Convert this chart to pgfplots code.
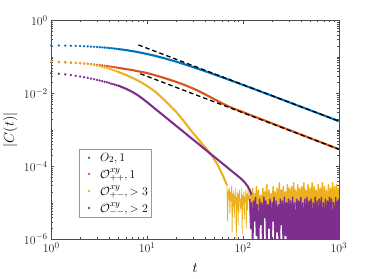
\documentclass[border=0pt]{standalone}
\usepackage{pgfplots}
\pgfplotsset{compat=1.18}
\definecolor{mblue}{rgb}{0,0.447,0.741}
\definecolor{morange}{rgb}{0.85,0.325,0.098}
\definecolor{myellow}{rgb}{0.929,0.694,0.125}
\definecolor{mpurple}{rgb}{0.494,0.184,0.556}
\begin{document}
\begin{tikzpicture}
\begin{axis}[
  scale only axis, width=289.4bp, height=220bp,
  xmode=log, ymode=log, xmin=1, xmax=1000, ymin=1e-6, ymax=1,
  xtick={1,10,100,1000}, ytick={1e-6,1e-4,1e-2,1},
  minor xtick={2,3,4,5,6,7,8,9,20,30,40,50,60,70,80,90,200,300,400,500,600,700,800,900},
  minor ytick={2e-6,3e-6,4e-6,5e-6,6e-6,7e-6,8e-6,9e-6,1e-5,2e-5,3e-5,4e-5,5e-5,6e-5,7e-5,8e-5,9e-5,
    2e-4,3e-4,4e-4,5e-4,6e-4,7e-4,8e-4,9e-4,1e-3,2e-3,3e-3,4e-3,5e-3,6e-3,7e-3,8e-3,9e-3,
    2e-2,3e-2,4e-2,5e-2,6e-2,7e-2,8e-2,9e-2,1e-1,2e-1,3e-1,4e-1,5e-1,6e-1,7e-1,8e-1,9e-1},
  tick align=inside, major tick length=3bp, minor tick length=1.8bp,
  axis line style={black!70, line width=0.45pt},
  every tick/.style={black!70, line width=0.4pt},
  tick label style={font=\fontsize{12.5}{13}\selectfont, text=black!85},
  xlabel={$t$}, ylabel={$|C(t)|$},
  every axis x label/.style={at={(axis description cs:0.5,-0.133)}, anchor=center, font=\fontsize{13.5}{14}\selectfont},
  every axis y label/.style={at={(axis description cs:-0.142,0.5)}, rotate=90, anchor=center, font=\fontsize{13.5}{14}\selectfont},
  legend style={at={(0.097,0.412)}, anchor=north west, draw=black!40, fill=white,
    font=\fontsize{13}{15}\selectfont, row sep=1.9bp, inner sep=1.6bp},
  legend image code/.code={\path (0bp,0bp) (17bp,0bp); \draw[#1] plot coordinates {(8bp,0bp)};},
  legend cell align=left,
  line join=round,
]
% blue
\addplot[only marks, mark=*, mark size=1bp, mblue] coordinates {
(1,0.2097)(1.2,0.2079)(1.4,0.2060)(1.6,0.2039)(1.8,0.2018)(2,0.1997)(2.2,0.1974)(2.4,0.1952)(2.6,0.1929)(2.8,0.1906)(3,0.1883)(3.2,0.1860)(3.4,0.1836)(3.6,0.1813)(3.8,0.1790)(4,0.1767)(4.2,0.1744)(4.4,0.1722)(4.6,0.1699)(4.8,0.1677)(5,0.1655)};
\addlegendentry{$O_2, 1$}
\addplot[mblue, line width=2.1bp, forget plot] coordinates {
(5,0.1655)(6,0.1551)(7,0.1453)(8,0.1365)(10,0.1210)(12,0.1082)(15,0.0930)(20,0.07474)(25,0.06221)(30,0.05316)(40,0.04106)(50,0.03338)(70,0.02422)(100,0.01714)(150,0.011504)(200,0.008654)(300,0.005781)(500,0.003475)(700,0.002484)(1000,0.001739)};
% orange
\addplot[only marks, mark=*, mark size=1bp, morange] coordinates {
(1,7.24e-2)(1.2,7.16e-2)(1.4,7.08e-2)(1.6,6.98e-2)(1.8,6.87e-2)(2,6.76e-2)(2.2,6.64e-2)(2.4,6.52e-2)(2.6,6.38e-2)(2.8,6.25e-2)(3,6.12e-2)(3.2,6.00e-2)(3.4,5.87e-2)(3.6,5.75e-2)(3.8,5.64e-2)(4,5.52e-2)(4.2,5.42e-2)(4.4,5.32e-2)(4.6,5.22e-2)(4.8,5.13e-2)(5,5.04e-2)};
\addlegendentry{$\mathcal{O}^{xy}_{++}, 1$}
\addplot[morange, line width=2.1bp, forget plot] coordinates {
(5,5.04e-2)(6,4.68e-2)(7,4.37e-2)(8,4.07e-2)(9,3.85e-2)(10,3.63e-2)(12,3.18e-2)(15,2.67e-2)(20,2.09e-2)(25,1.68e-2)(30,1.377e-2)(35,1.14e-2)(40,9.55e-3)(50,6.98e-3)(60,5.43e-3)(70,4.48e-3)(80,3.85e-3)(100,3.07e-3)(150,2.03e-3)(200,1.52e-3)(300,1.005e-3)(500,5.97e-4)(700,4.24e-4)(1000,2.95e-4)};
% yellow
\addplot[only marks, mark=*, mark size=1bp, myellow] coordinates {
(1,7.59e-2)(1.2,7.46e-2)(1.4,7.33e-2)(1.6,7.18e-2)(1.8,7.01e-2)(2,6.84e-2)(2.2,6.65e-2)(2.4,6.46e-2)(2.6,6.25e-2)(2.8,6.04e-2)(3,5.82e-2)(3.2,5.61e-2)(3.4,5.40e-2)(3.6,5.19e-2)(3.8,4.99e-2)(4,4.79e-2)(4.2,4.59e-2)(4.4,4.41e-2)(4.6,4.23e-2)(4.8,4.06e-2)(5,3.89e-2)};
\addlegendentry{$\mathcal{O}^{xy}_{+-}, >3$}
\addplot[myellow, line width=2.1bp, forget plot] coordinates {
(5,3.89e-2)(6,3.24e-2)(7,2.69e-2)(8,2.26e-2)(9,1.905e-2)(10,1.60e-2)(12,1.148e-2)(14.6,7.24e-3)(17,4.90e-3)(20,3.16e-3)(24,1.78e-3)(28.7,9.55e-4)(34,5.62e-4)(40,3.39e-4)(48,1.86e-4)(55,1.047e-4)(62,5.37e-5)(68,3.02e-5)};
\addplot[myellow, line width=0.8bp, forget plot] coordinates {
(68,3.02e-5)(69,3.16e-6)(70,2.24e-5)(71,1.26e-5)(72,2.51e-5)(73,5.01e-6)(74,2.00e-5)(75,1.12e-5)(76,2.82e-5)(77,1.58e-6)(78,1.78e-5)(79,7.94e-6)(80,2.24e-5)(81,3.98e-6)(82,1.58e-5)(83,8.91e-6)(84,2.51e-5)(85,1.00e-6)(86,1.41e-5)(87,6.31e-6)(88,2.00e-5)(89,2.51e-6)(90,1.78e-5)(91,1.12e-5)(92,2.24e-5)(93,5.62e-6)(94,1.26e-5)(96,7.08e-6)(97,2.51e-5)(98,1.41e-6)(99,1.58e-5)(100,8.91e-6)(102,2.00e-5)(103,3.55e-6)(104,1.41e-5)(106,1.00e-5)(107,2.24e-5)(108,2.00e-6)(110,1.78e-5)(111,6.31e-6)(113,2.51e-5)(114,1.26e-5)(116,1.58e-5)(118,4.47e-6)(119,2.00e-5)(120,1.12e-5)};
\addplot[myellow, line width=1.4bp, forget plot] coordinates {
(120,2.00e-5)(123,7.94e-6)(126,2.51e-5)(129,6.31e-6)(132,1.78e-5)(135,8.91e-6)(138,2.82e-5)(141,5.62e-6)(145,2.24e-5)(149,7.08e-6)(153,1.58e-5)(157,1.00e-5)(161,2.51e-5)(165,6.31e-6)(169,2.00e-5)(173,7.94e-6)(177,3.16e-5)(181,5.62e-6)(186,2.24e-5)(191,8.91e-6)(196,1.78e-5)(201,6.31e-6)(206,2.82e-5)(211,7.08e-6)(216,2.00e-5)(221,5.01e-6)(227,2.51e-5)(233,8.91e-6)(239,3.55e-5)(245,6.31e-6)(251,2.24e-5)(257,7.94e-6)(263,2.82e-5)(270,5.62e-6)(277,2.00e-5)(284,8.91e-6)(291,3.16e-5)(298,6.31e-6)(305,2.51e-5)(313,7.08e-6)(321,2.82e-5)(329,5.62e-6)(337,3.55e-5)(345,7.94e-6)(354,2.24e-5)(363,6.31e-6)(372,3.16e-5)(381,8.91e-6)(390,2.51e-5)(400,5.62e-6)(410,2.82e-5)(420,7.08e-6)(431,3.55e-5)(442,6.31e-6)(453,2.24e-5)(464,7.94e-6)(476,3.16e-5)(488,5.62e-6)(500,2.51e-5)(512,7.08e-6)(525,3.55e-5)(538,6.31e-6)(551,2.82e-5)(565,7.94e-6)(579,2.24e-5)(593,5.62e-6)(608,3.16e-5)(623,7.08e-6)(639,2.51e-5)(655,6.31e-6)(671,3.55e-5)(688,7.94e-6)(705,2.82e-5)(723,5.62e-6)(741,2.24e-5)(760,7.08e-6)(779,3.16e-5)(798,6.31e-6)(818,2.51e-5)(838,7.94e-6)(859,3.55e-5)(881,5.62e-6)(903,2.82e-5)(925,7.08e-6)(948,3.16e-5)(972,6.31e-6)(996,2.51e-5)(1000,7.94e-6)};
% purple
\addplot[only marks, mark=*, mark size=1bp, mpurple] coordinates {
(1,3.59e-2)(1.2,3.47e-2)(1.4,3.33e-2)(1.6,3.19e-2)(1.8,3.05e-2)(2,2.92e-2)(2.2,2.80e-2)(2.4,2.68e-2)(2.6,2.56e-2)(2.8,2.46e-2)(3,2.36e-2)(3.2,2.27e-2)(3.4,2.18e-2)(3.6,2.09e-2)(3.8,2.02e-2)(4,1.945e-2)(4.2,1.87e-2)(4.4,1.81e-2)(4.6,1.75e-2)(4.8,1.69e-2)(5,1.64e-2)};
\addlegendentry{$\mathcal{O}^{xy}_{--}, >2$}
\addplot[mpurple, line width=2.1bp, forget plot] coordinates {
(5,1.64e-2)(6,1.352e-2)(7,1.107e-2)(8,8.93e-3)(9,7.14e-3)(10,5.73e-3)(12,3.88e-3)(15,2.41e-3)(20,1.303e-3)(25,8.09e-4)(30,5.47e-4)(35,3.94e-4)(40,2.95e-4)(48,2.00e-4)(55,1.493e-4)(62,1.156e-4)(74,7.91e-5)(87,5.60e-5)(95,4.63e-5)(105,3.55e-5)(112,2.82e-5)(118,2.19e-5)(122,1.66e-5)};
\addplot[mpurple, line width=1.5bp, forget plot] coordinates {
(118,1.26e-5)(120,2.00e-6)(123,1.00e-5)(126,5.01e-7)(129,1.12e-5)(132,3.16e-6)(135,1.41e-5)(138,1.26e-6)(141,8.91e-6)(145,5.01e-7)(149,1.26e-5)(153,2.51e-6)(157,1.00e-5)(161,5.01e-7)(165,1.41e-5)(169,3.98e-6)(173,1.12e-5)(177,5.01e-7)(181,8.91e-6)(186,2.00e-6)(191,1.26e-5)(196,5.01e-7)(201,1.00e-5)(206,3.16e-6)(211,1.41e-5)(216,5.01e-7)(221,1.12e-5)(227,1.58e-6)(233,8.91e-6)(239,5.01e-7)(245,1.26e-5)(251,2.51e-6)(257,1.12e-5)(263,5.01e-7)(270,1.41e-5)(277,1.26e-6)(284,1.00e-5)(291,5.01e-7)(298,1.26e-5)(305,5.01e-7)(313,1.12e-5)(321,5.01e-7)(329,1.41e-5)(337,5.01e-7)(345,1.00e-5)(354,5.01e-7)(363,1.26e-5)(372,5.01e-7)(381,1.12e-5)(390,5.01e-7)(400,1.41e-5)(410,5.01e-7)(420,1.00e-5)(431,5.01e-7)(442,1.26e-5)(453,5.01e-7)(464,1.41e-5)(476,5.01e-7)(488,1.12e-5)(500,5.01e-7)(512,1.26e-5)(525,5.01e-7)(538,1.00e-5)(551,5.01e-7)(565,1.41e-5)(579,5.01e-7)(593,1.12e-5)(608,5.01e-7)(623,1.26e-5)(639,5.01e-7)(655,1.41e-5)(671,5.01e-7)(688,1.00e-5)(705,5.01e-7)(723,1.26e-5)(741,5.01e-7)(760,1.12e-5)(779,5.01e-7)(798,1.41e-5)(818,5.01e-7)(838,1.26e-5)(859,5.01e-7)(881,1.00e-5)(903,5.01e-7)(925,1.41e-5)(948,5.01e-7)(972,1.12e-5)(996,5.01e-7)(1000,1.26e-5)};
% power-law guides
\addplot[black, line width=1.3bp, dash pattern=on 4.5bp off 3bp, forget plot] coordinates {(8.1,0.2148)(1000,0.00174)};
\addplot[black, line width=1.3bp, dash pattern=on 4.5bp off 3bp, forget plot] coordinates {(8.5,0.0347)(1000,0.000295)};
\coordinate (bl) at (rel axis cs:0,0);
\end{axis}
\path (bl) ++(-49.3bp,-39.3bp) rectangle ++(374bp,280bp);
\end{tikzpicture}
\end{document}
